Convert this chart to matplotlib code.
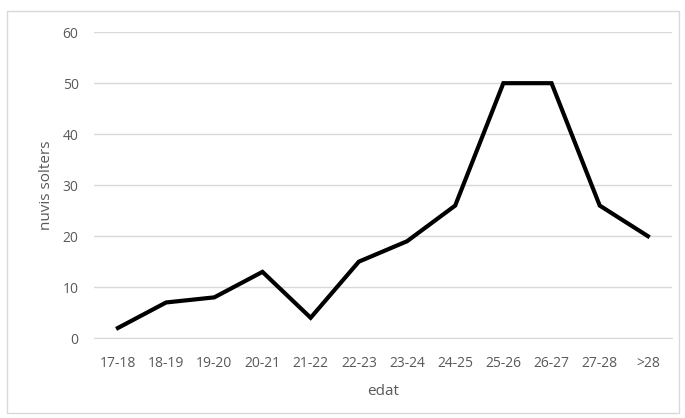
import matplotlib
matplotlib.use("Agg")
import matplotlib.pyplot as plt
from matplotlib.patches import Rectangle

# age groups and number of single grooms
edats = ["17-18", "18-19", "19-20", "20-21", "21-22", "22-23",
         "23-24", "24-25", "25-26", "26-27", "27-28", ">28"]
nuvis = [2, 7, 8, 13, 4, 15, 19, 26, 50, 50, 26, 20]

plt.rcParams['font.family'] = ['Open Sans', 'DejaVu Sans']
gris = '#595959'

fig = plt.figure(figsize=(6.85, 4.18), dpi=100)
ax = fig.add_axes([0.137, 0.191, 0.844, 0.732])

x = list(range(len(edats)))
ax.plot(x, nuvis, color='black', linewidth=3, solid_joinstyle='miter')

ax.set_xlim(-0.5, len(edats) - 0.5)
ax.set_ylim(0, 60)
ax.set_yticks(range(0, 61, 10))
ax.set_xticks(x)
ax.set_xticklabels(edats)
ax.grid(axis='y', color='#d9d9d9', linewidth=1)
ax.set_axisbelow(True)
for s in ax.spines.values():
    s.set_visible(False)
ax.spines['bottom'].set_visible(True)
ax.spines['bottom'].set_color('#d9d9d9')
ax.tick_params(length=0, colors=gris, labelsize=10)
ax.tick_params(axis='y', pad=11)
ax.tick_params(axis='x', pad=13)

ax.set_xlabel('edat', color=gris, fontsize=11, labelpad=9)
ax.set_ylabel('nuvis solters', color=gris, fontsize=11, labelpad=6)

# outer chart border
fig.patches.append(Rectangle((7 / 685, 5 / 418), 672 / 685, 402 / 418,
                             transform=fig.transFigure, fill=False,
                             edgecolor='#d9d9d9', linewidth=1))

fig.savefig('out.png', dpi=100)
